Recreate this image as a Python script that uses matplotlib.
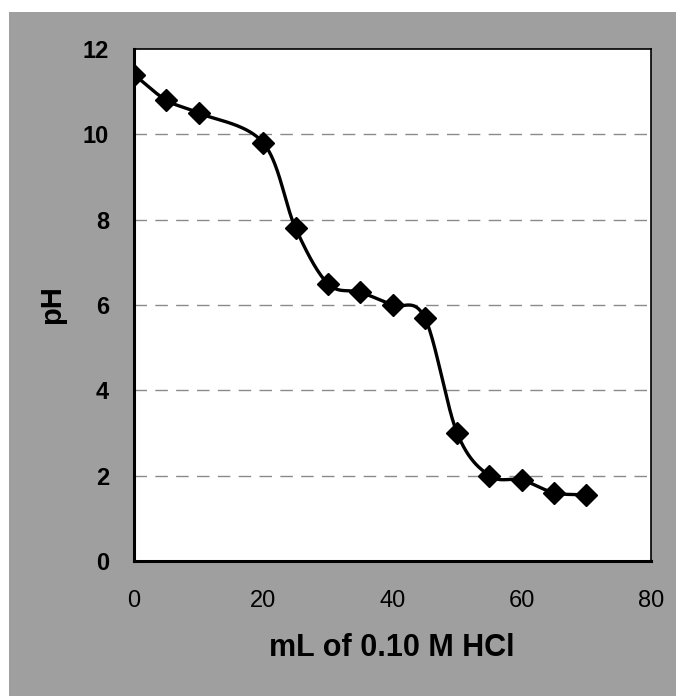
import numpy as np
import matplotlib
matplotlib.use("Agg")
import matplotlib.pyplot as plt
from matplotlib.patches import Rectangle

plt.rcParams['font.family'] = ['Liberation Sans', 'DejaVu Sans']

# Data
ml_hcl = [0, 5, 10, 20, 25, 30, 35, 40, 45, 50, 55, 60, 65, 70]
ph = [11.4, 10.8, 10.5, 9.8, 7.8, 6.5, 6.3, 6.0, 5.7, 3.0, 2.0, 1.9, 1.6, 1.55]
x_ticks = [0, 20, 40, 60, 80]
y_ticks = [0, 2, 4, 6, 8, 10, 12]
x_label = "mL of 0.10 M HCl"
y_label = "pH"


def catmull_rom(x, y, n=40):
    x = np.asarray(x, float)
    y = np.asarray(y, float)
    px = np.concatenate([[2 * x[0] - x[1]], x, [2 * x[-1] - x[-2]]])
    py = np.concatenate([[2 * y[0] - y[1]], y, [2 * y[-1] - y[-2]]])
    xs, ys = [], []
    t = np.linspace(0, 1, n)
    for i in range(1, len(px) - 2):
        p0x, p1x, p2x, p3x = px[i - 1:i + 3]
        p0y, p1y, p2y, p3y = py[i - 1:i + 3]
        t2, t3 = t * t, t * t * t
        bx = 0.5 * ((2 * p1x) + (-p0x + p2x) * t + (2 * p0x - 5 * p1x + 4 * p2x - p3x) * t2
                    + (-p0x + 3 * p1x - 3 * p2x + p3x) * t3)
        by = 0.5 * ((2 * p1y) + (-p0y + p2y) * t + (2 * p0y - 5 * p1y + 4 * p2y - p3y) * t2
                    + (-p0y + 3 * p1y - 3 * p2y + p3y) * t3)
        xs.append(bx)
        ys.append(by)
    return np.concatenate(xs), np.concatenate(ys)


fig = plt.figure(figsize=(6.76, 6.96), dpi=100)
fig.patch.set_facecolor('white')
fig.patches.append(Rectangle((9 / 676, 0), 1 - 9 / 676, 1 - 12 / 696,
                             transform=fig.transFigure, facecolor='#9f9f9f',
                             edgecolor='none', zorder=-10))

ax = fig.add_axes([134 / 676, 1 - 561 / 696, (651 - 134) / 676, (561 - 49) / 696])
ax.set_facecolor('white')

sx, sy = catmull_rom(ml_hcl, ph)
ax.plot(sx, sy, color='black', lw=2.4, zorder=3, solid_capstyle='round')
ax.plot(ml_hcl, ph, linestyle='none', marker='D', ms=11, color='black', zorder=4)

ax.set_xlim(0, 80)
ax.set_ylim(0, 12)
ax.set_xticks(x_ticks)
ax.set_yticks(y_ticks)
ax.set_xticklabels([str(v) for v in x_ticks], fontsize=17)
ax.set_yticklabels([str(v) for v in y_ticks], fontsize=17, fontweight='bold')
ax.tick_params(axis='both', length=0)
ax.tick_params(axis='x', pad=21)
ax.tick_params(axis='y', pad=18)

for v in y_ticks[1:-1]:
    ax.axhline(v, color='#8a8a8a', lw=1.0, ls=(0, (9, 6)), zorder=1)

for side in ['left', 'bottom']:
    ax.spines[side].set_linewidth(2.2)
for side in ['top', 'right']:
    ax.spines[side].set_linewidth(1.2)
for s in ax.spines.values():
    s.set_color('black')

fig.text(392 / 676, 1 - 648 / 696, x_label, ha='center', va='center',
         fontsize=22, fontweight='bold')
fig.text(52 / 676, 1 - 305 / 696, y_label, ha='center', va='center',
         fontsize=21, fontweight='bold', rotation=90)

fig.savefig('out.png', dpi=100)
